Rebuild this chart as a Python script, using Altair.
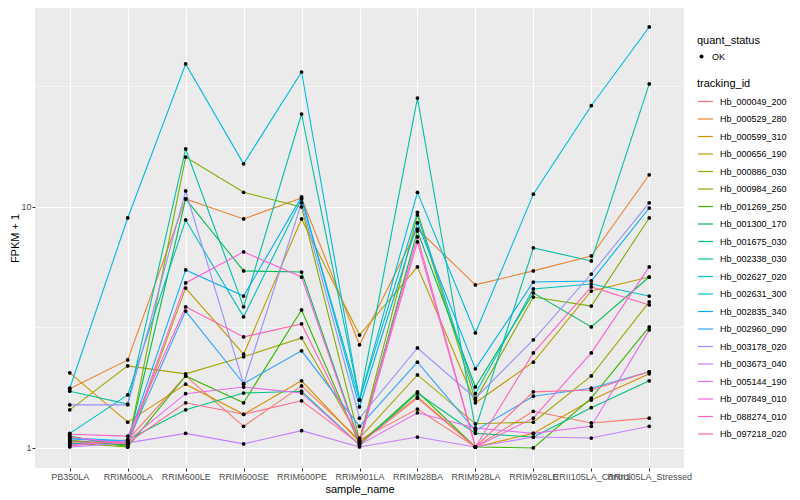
import altair as alt
import pandas as pd

samples = ["PB350LA", "RRIM600LA", "RRIM600LE", "RRIM600SE", "RRIM600PE", "RRIM901LA",
           "RRIM928BA", "RRIM928LA", "RRIM928LE", "RRII105LA_Control", "RRII105LA_Stressed"]

tracking_ids = ["Hb_000049_200", "Hb_000529_280", "Hb_000599_310", "Hb_000656_190", "Hb_000886_030",
                "Hb_000984_260", "Hb_001269_250", "Hb_001300_170", "Hb_001675_030", "Hb_002338_030",
                "Hb_002627_020", "Hb_002631_300", "Hb_002835_340", "Hb_002960_090", "Hb_003178_020",
                "Hb_003673_040", "Hb_005144_190", "Hb_007849_010", "Hb_088274_010", "Hb_097218_020"]

line_colors = ["#F8766D", "#EA8331", "#D89000", "#C09B00", "#A3A500", "#7CAE00", "#39B600", "#00BB4E",
               "#00BF7D", "#00C1A3", "#00BFC4", "#00BAE0", "#00B0F6", "#35A2FF", "#9590FF", "#C77CFF",
               "#E76BF3", "#FA62DB", "#FF62BC", "#FF6C91"]

# FPKM + 1 per sample (order of `samples`)
hb_000049_200 = [1.02, 1.08, 1.99, 1.23, 1.81, 1.08, 1.45, 1.01, 1.42, 1.27, 1.33]
hb_000529_280 = [1.76, 2.32, 10.8, 8.92, 10.9, 2.68, 8.1, 4.75, 5.43, 6.26, 13.6]
hb_000599_310 = [2.05, 1.28, 1.84, 1.38, 1.90, 1.06, 1.63, 1.01, 1.15, 1.58, 2.03]
hb_000656_190 = [1.08, 1.02, 4.61, 2.45, 8.92, 2.94, 5.64, 1.54, 2.27, 4.48, 5.12]
hb_000886_030 = [1.44, 2.19, 2.03, 2.39, 2.86, 1.10, 2.01, 1.26, 1.28, 1.99, 4.04]
hb_000984_260 = [1.05, 1.01, 16.1, 11.5, 10.0, 1.08, 9.26, 1.58, 4.23, 3.88, 9.0]
hb_001269_250 = [1.12, 1.01, 1.99, 1.54, 3.74, 1.04, 1.71, 1.01, 1.00, 1.61, 3.18]
hb_001300_170 = [1.07, 1.03, 10.8, 5.43, 5.37, 1.06, 7.95, 1.79, 4.40, 3.18, 5.12]
hb_001675_030 = [1.04, 1.08, 1.44, 1.69, 1.72, 1.03, 1.69, 1.15, 1.11, 1.47, 1.90]
hb_002338_030 = [1.72, 1.52, 17.4, 3.85, 24.3, 1.58, 28.3, 1.20, 6.76, 5.97, 32.4]
hb_002627_020 = [1.15, 1.66, 8.83, 3.50, 10.8, 1.58, 9.5, 1.68, 4.57, 4.79, 4.27]
hb_002631_300 = [1.77, 9.0, 39.2, 15.1, 36.3, 1.58, 11.5, 3.00, 11.3, 26.3, 55.8]
hb_002835_340 = [1.10, 1.07, 5.48, 4.27, 11.0, 1.48, 8.58, 2.13, 4.88, 4.93, 9.9]
hb_002960_090 = [1.09, 1.06, 3.70, 1.85, 2.53, 1.23, 2.27, 1.18, 1.64, 1.77, 2.07]
hb_003178_020 = [1.51, 1.51, 11.65, 1.84, 10.4, 1.33, 2.60, 1.61, 2.81, 5.27, 10.4]
hb_003673_040 = [1.01, 1.05, 1.15, 1.04, 1.18, 1.01, 1.11, 1.01, 1.11, 1.10, 1.23]
hb_005144_190 = [1.03, 1.07, 1.68, 1.79, 1.69, 1.03, 1.40, 1.21, 1.15, 1.23, 3.09]
hb_007849_010 = [1.11, 1.04, 4.84, 6.51, 5.12, 1.05, 7.16, 1.01, 1.33, 2.48, 5.64]
hb_088274_010 = [1.14, 1.12, 3.85, 2.89, 3.27, 1.07, 7.51, 1.01, 2.48, 4.66, 3.92]
hb_097218_020 = [1.06, 1.05, 1.54, 1.38, 1.57, 1.04, 1.61, 1.01, 1.71, 1.74, 2.07]

series = [hb_000049_200, hb_000529_280, hb_000599_310, hb_000656_190, hb_000886_030,
          hb_000984_260, hb_001269_250, hb_001300_170, hb_001675_030, hb_002338_030,
          hb_002627_020, hb_002631_300, hb_002835_340, hb_002960_090, hb_003178_020,
          hb_003673_040, hb_005144_190, hb_007849_010, hb_088274_010, hb_097218_020]

y_major = [1, 10]
y_minor = [3.1623, 31.623]
y_domain = [0.826, 66.9]

rows = []
for tid, vals in zip(tracking_ids, series):
    for s, v in zip(samples, vals):
        rows.append({"sample_name": s, "tracking_id": tid, "fpkm1": v, "quant_status": "OK"})
df = pd.DataFrame(rows)
minor_df = pd.DataFrame({"fpkm1": y_minor})

FONT = "Liberation Sans"

y_scale = alt.Scale(type="log", domain=y_domain, nice=False, zero=False)

x_enc = alt.X("sample_name:N", sort=samples,
              scale=alt.Scale(type="point", padding=0.6),
              axis=alt.Axis(title="sample_name", labelAngle=0, labelOverlap=False, labelBound=False,
                            grid=True, gridColor="white", gridWidth=1.1, domain=False,
                            tickColor="#333333", tickSize=3, tickWidth=1,
                            labelColor="#4D4D4D", labelFontSize=9, labelPadding=1,
                            titleFontSize=11, titleFontWeight="normal", titleColor="black",
                            titlePadding=2))
y_axis = alt.Axis(title="FPKM + 1", values=y_major, format="d",
                  grid=True, gridColor="white", gridWidth=1.1, domain=False,
                  tickColor="#333333", tickSize=3, tickWidth=1,
                  labelColor="#4D4D4D", labelFontSize=9, labelPadding=1,
                  titleFontSize=11, titleFontWeight="normal", titleColor="black",
                  titlePadding=0)
y_enc = alt.Y("fpkm1:Q", scale=y_scale, axis=y_axis)

minor = alt.Chart(minor_df).mark_rule(color="white", strokeWidth=0.55).encode(
    y=alt.Y("fpkm1:Q", scale=y_scale, axis=y_axis)
)

lines = alt.Chart(df).mark_line(strokeWidth=1.1).encode(
    x=x_enc, y=y_enc,
    color=alt.Color("tracking_id:N",
                    scale=alt.Scale(domain=tracking_ids, range=line_colors),
                    legend=alt.Legend(title="tracking_id", orient="none", legendX=662, legendY=70,
                                      symbolType="stroke", symbolSize=225, symbolStrokeWidth=1.2,
                                      labelFontSize=9, labelColor="black", labelOffset=6,
                                      titleFontSize=11, titleFontWeight="normal", titleColor="black",
                                      titlePadding=4, rowPadding=3.5))
)

points = alt.Chart(df).mark_point(filled=True, color="black", size=14, opacity=1).encode(
    x=x_enc, y=y_enc,
    shape=alt.Shape("quant_status:N", scale=alt.Scale(range=["circle"]),
                    legend=alt.Legend(title="quant_status", orient="none", legendX=662, legendY=27,
                                      symbolFillColor="black", symbolStrokeColor="black",
                                      symbolSize=16, labelFontSize=9, labelColor="black",
                                      labelOffset=6,
                                      titleFontSize=11, titleFontWeight="normal", titleColor="black",
                                      titlePadding=6))
)

chart = alt.layer(minor, lines, points).properties(
    width=649, height=460,
    padding={"left": 27, "top": 0, "right": 105, "bottom": 27},
    autosize=alt.AutoSizeParams(type="none"),
).configure(font=FONT).configure_view(fill="#EBEBEB", strokeWidth=0)

chart.save("out.html", embed_options={"renderer": "svg", "actions": False})
